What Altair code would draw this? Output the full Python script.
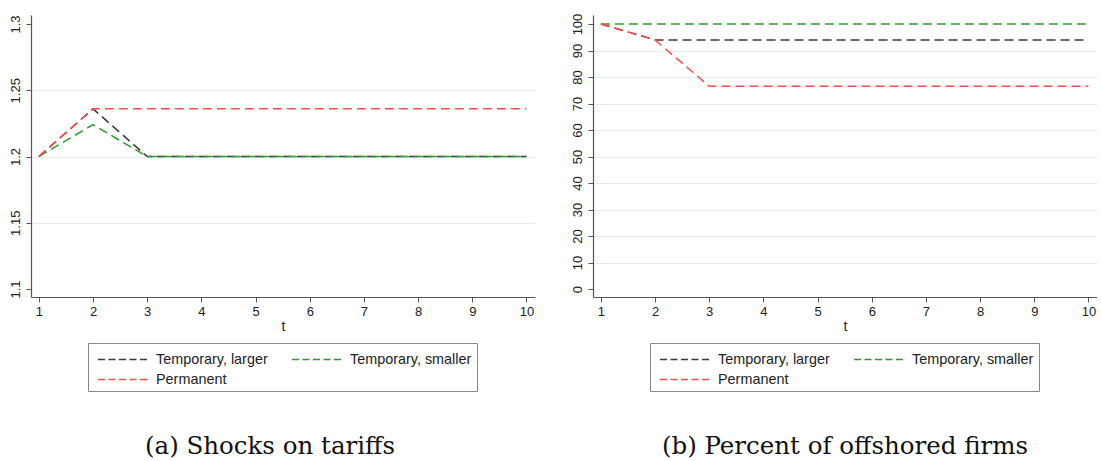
import altair as alt
import pandas as pd

t = [1, 2, 3, 4, 5, 6, 7, 8, 9, 10]
series = ["Temporary, larger", "Temporary, smaller", "Permanent"]
colors = ["#3a3a3a", "#2a9d2a", "#ff4c4c"]
# legend fills column-first, so this order gives rows: larger | smaller, then Permanent
legend_order = ["Temporary, larger", "Permanent", "Temporary, smaller"]
legend_colors = ["#3a3a3a", "#ff4c4c", "#2a9d2a"]

tariff_larger = [1.2, 1.236, 1.2, 1.2, 1.2, 1.2, 1.2, 1.2, 1.2, 1.2]
tariff_smaller = [1.2, 1.224, 1.2, 1.2, 1.2, 1.2, 1.2, 1.2, 1.2, 1.2]
tariff_perm = [1.2, 1.236, 1.236, 1.236, 1.236, 1.236, 1.236, 1.236, 1.236, 1.236]

off_larger = [100, 94, 94, 94, 94, 94, 94, 94, 94, 94]
off_smaller = [100, 100, 100, 100, 100, 100, 100, 100, 100, 100]
off_perm = [100, 94, 76.5, 76.5, 76.5, 76.5, 76.5, 76.5, 76.5, 76.5]

tariff_ticks = [1.1, 1.15, 1.2, 1.25, 1.3]
off_ticks = [0, 10, 20, 30, 40, 50, 60, 70, 80, 90, 100]


def long(a, b, c):
    rows = []
    for name, vals in zip(series, [a, b, c]):
        for i, v in zip(t, vals):
            rows.append({"t": i, "value": v, "series": name, "order": series.index(name)})
    return pd.DataFrame(rows)


FONT = "Liberation Sans"
R = 10.5  # half of nominal legend symbol box


def panel(df, ydomain, yticks, yformat, gridtest, caption, cap_dx):
    x = alt.X("t:Q",
              scale=alt.Scale(domain=[0.855, 10.158], nice=False, zero=False),
              axis=alt.Axis(values=t, title="t", grid=False, labelFlush=False,
                            tickSize=5, labelPadding=3, titlePadding=1,
                            format="d"))
    y = alt.Y("value:Q",
              scale=alt.Scale(domain=ydomain, nice=False, zero=False),
              axis=alt.Axis(values=yticks, title=None, labelAngle=270, format=yformat,
                            tickSize=5, labelPadding=4, labelFlush=False,
                            grid=True, gridColor="#e4eef1", gridWidth=1,
                            gridOpacity={"condition": {"test": gridtest, "value": 0}, "value": 1}))
    chart = alt.Chart(df).mark_line(strokeDash=[9, 5], strokeWidth=1.5).encode(
        x=x, y=y,
        color=alt.Color("series:N", sort=legend_order,
                        scale=alt.Scale(domain=legend_order, range=legend_colors),
                        legend=alt.Legend(title=None, orient="none", legendX=57, legendY=328,
                                          columns=2, symbolType="M-0.62,0H4.14",
                                          symbolSize=(2 * R) ** 2,
                                          symbolDash=[7, 3.5], symbolStrokeWidth=1.5,
                                          labelFont=FONT, labelFontSize=14.4, labelColor="#222",
                                          labelOffset=40, columnPadding=19, rowPadding=2,
                                          padding=5, strokeColor="#888", fillColor="white",
                                          labelLimit=300)),
        order=alt.Order("order:Q"),
        detail="series:N",
    ).properties(width=504, height=282,
                 title=alt.TitleParams(caption, orient="bottom", font="DejaVu Serif",
                                       fontSize=24.5, fontWeight="normal", color="#111",
                                       offset=43, anchor="middle", dx=cap_dx))
    return chart


left = panel(long(tariff_larger, tariff_smaller, tariff_perm), [1.094, 1.3068], tariff_ticks, ".2~f",
             "datum.value < 1.12 || datum.value > 1.28", "(a) Shocks on tariffs", -13)
right = panel(long(off_larger, off_smaller, off_perm), [-3.0, 103.4], off_ticks, "d",
              "datum.value < 5 || datum.value > 95", "(b) Percent of offshored firms", 0)

chart = alt.hconcat(left, right, spacing=35).resolve_scale(color="independent").properties(
    padding={"left": 9, "top": 13, "right": 0, "bottom": 3},
    background="white",
).configure_axis(
    labelFont=FONT, labelFontSize=13, labelColor="#222",
    titleFont=FONT, titleFontSize=14, titleFontWeight="normal", titleColor="#222",
    domainColor="#555", tickColor="#555", domainWidth=1.2,
).configure_view(stroke=None)

chart.save("out.html", embed_options={"renderer": "svg", "actions": False})
